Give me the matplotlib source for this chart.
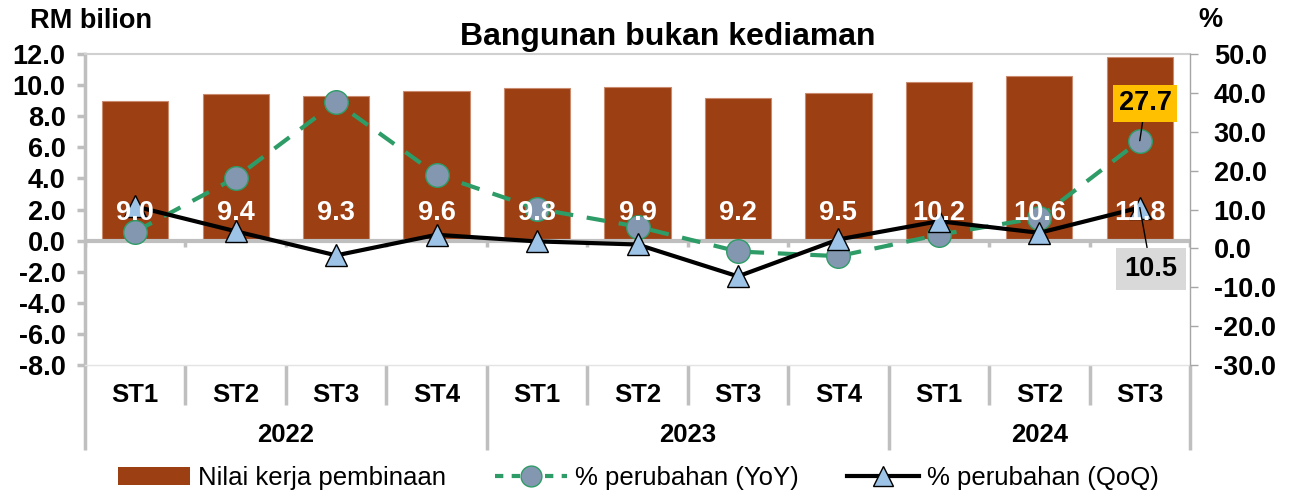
import numpy as np
import matplotlib
matplotlib.use("Agg")
import matplotlib.pyplot as plt
from matplotlib.patches import Patch
from matplotlib.lines import Line2D
import matplotlib.transforms as mtransforms

plt.rcParams['font.family'] = ['Liberation Sans', 'DejaVu Sans']

# ------------------------------------------------------------
# Data
# ------------------------------------------------------------
quarters = ['ST1', 'ST2', 'ST3', 'ST4', 'ST1', 'ST2', 'ST3', 'ST4', 'ST1', 'ST2', 'ST3']
years = ['2022', '2023', '2024']
year_len = [4, 4, 3]
nilai = [9.0, 9.4, 9.3, 9.6, 9.8, 9.9, 9.2, 9.5, 10.2, 10.6, 11.8]
yoy = [4.3, 18.2, 37.6, 19.0, 10.2, 5.6, -0.8, -2.0, 3.5, 7.9, 27.7]
qoq = [10.8, 4.4, -1.8, 3.5, 1.8, 1.0, -7.2, 2.3, 7.0, 4.0, 10.5]

bar_col = '#9C3F13'
green = '#2E9C67'
grey = '#BFBFBF'

# ------------------------------------------------------------
# Figure
# ------------------------------------------------------------
fig = plt.figure(figsize=(12.9, 4.95), dpi=100)
ax = fig.add_axes([0.0659, 0.2626, 0.8566, 0.6283])
ax2 = ax.twinx()

x = np.arange(len(nilai))
ax.bar(x, nilai, width=0.66, color=bar_col, edgecolor='#C98A6E', lw=0.8, zorder=2)
ax.axhline(0, color=grey, lw=3, zorder=3)
for b in np.arange(-0.5, len(nilai), 1.0):
    ax.plot([b, b], [0, -0.4], color=grey, lw=2.5, zorder=3, solid_capstyle='butt')

ax.set_xlim(-0.5, len(nilai) - 0.5)
ax.set_ylim(-8, 12)
ax.set_yticks(np.arange(-8, 13, 2))
ax.set_yticklabels([f'{v:.1f}' for v in np.arange(-8, 13, 2)])
ax2.set_ylim(-30, 50)
ax2.set_yticks(np.arange(-30, 51, 10))
ax2.set_yticklabels([f'{v:.1f}' for v in np.arange(-30, 51, 10)])

ax.tick_params(axis='y', length=6, width=2.5, color=grey, labelsize=19.5, pad=8)
ax2.tick_params(axis='y', length=6, width=1, color='#A6A6A6', labelsize=19.5, pad=11)
for lab in ax.get_yticklabels() + ax2.get_yticklabels():
    lab.set_fontweight('bold')

ax.set_xticks(x)
ax.set_xticklabels(quarters, fontsize=18.5, fontweight='bold')
ax.tick_params(axis='x', length=0, pad=13)

ax.spines['left'].set_color(grey)
ax.spines['left'].set_linewidth(2.5)
ax.spines['top'].set_color('#D0D0D0')
ax.spines['top'].set_linewidth(1.5)
ax.spines['bottom'].set_color('#E3E3E3')
ax.spines['bottom'].set_linewidth(1)
ax.spines['right'].set_visible(False)
for s in ['left', 'top', 'bottom']:
    ax2.spines[s].set_visible(False)
ax2.spines['right'].set_color('#A6A6A6')
ax2.spines['right'].set_linewidth(1)

# category separators and year labels
trans = mtransforms.blended_transform_factory(ax.transData, ax.transAxes)
start = 0
bounds = [-0.5]
for yr, n in zip(years, year_len):
    ax.text(start + (n - 1) / 2, -0.226, yr, transform=trans, ha='center', va='center',
            fontsize=18.5, fontweight='bold')
    start += n
    bounds.append(start - 0.5)
for b in np.arange(-0.5, len(nilai), 1.0):
    low = -0.274 if b in bounds else -0.13
    ax.plot([b, b], [0, low], transform=trans, color=grey, lw=2.5, clip_on=False,
            solid_capstyle='butt')

# lines
ax2.plot(x, yoy, color=green, lw=3, dashes=(4.5, 3.3), marker='o', markersize=17,
         markerfacecolor='#8497B0', markeredgecolor=green, markeredgewidth=1, zorder=4)
ax2.plot(x, qoq, color='black', lw=3, marker='^', markersize=16,
         markerfacecolor='#9DC3E6', markeredgecolor='black', markeredgewidth=1, zorder=5)

# bar labels
for i, v in enumerate(nilai):
    ax2.text(i, 1.75, f'{v:.1f}', transform=ax.transData, ha='center', va='center',
             color='white', fontsize=19.5, fontweight='bold', zorder=6)

# callouts
ax2.annotate(f'{yoy[-1]:.1f}', xy=(x[-1], yoy[-1]), xytext=(4, 27), textcoords='offset points',
             ha='center', va='center', fontsize=19.5, fontweight='bold', zorder=7,
             bbox=dict(boxstyle='square,pad=0.2', fc='#FFC000', ec='none'),
             arrowprops=dict(arrowstyle='-', color='black', lw=1, shrinkA=0, shrinkB=0))
ax2.annotate(f'{qoq[-1]:.1f}', xy=(x[-1], qoq[-1]), xytext=(8, -44), textcoords='offset points',
             ha='center', va='center', fontsize=19.5, fontweight='bold', zorder=7,
             bbox=dict(boxstyle='square,pad=0.3', fc='#D9D9D9', ec='none'),
             arrowprops=dict(arrowstyle='-', color='black', lw=1, shrinkA=0, shrinkB=0))

# titles
fig.text(0.518, 0.925, 'Bangunan bukan kediaman', ha='center', va='center',
         fontsize=23, fontweight='bold')
fig.text(30 / 1290, 1 - 21 / 495, 'RM bilion', ha='left', va='center',
         fontsize=19.5, fontweight='bold')
fig.text(1210 / 1290, 1 - 20 / 495, '%', ha='center', va='center',
         fontsize=19.5, fontweight='bold')

# legend
handles = [
    Patch(facecolor=bar_col, edgecolor='none'),
    Line2D([], [], color=green, lw=3, dashes=(2, 2), marker='o', markersize=15,
           markerfacecolor='#8497B0', markeredgecolor=green),
    Line2D([], [], color='black', lw=3, marker='^', markersize=14,
           markerfacecolor='#9DC3E6', markeredgecolor='black'),
]
fig.legend(handles, ['Nilai kerja pembinaan', '% perubahan (YoY)', '% perubahan (QoQ)'],
           loc='center', bbox_to_anchor=(0.495, 0.035), ncol=3, frameon=False,
           fontsize=18.5, handlelength=2.8, columnspacing=1.9, handletextpad=0.3)

fig.savefig('out.png', dpi=100)
